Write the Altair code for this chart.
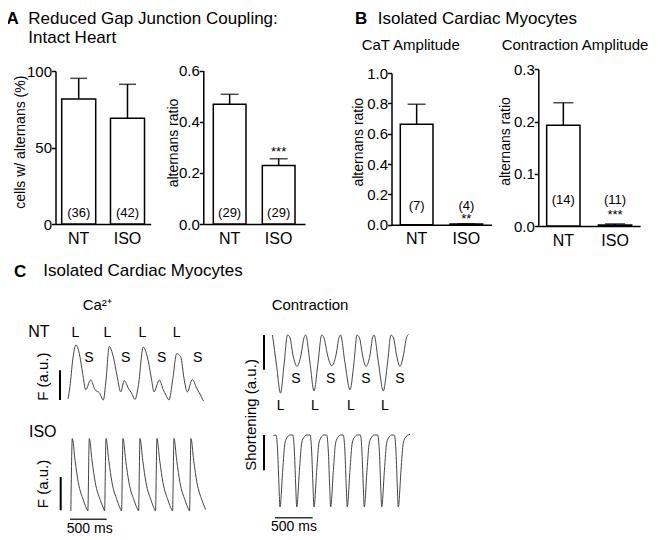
import altair as alt
import pandas as pd

FONT = "Liberation Sans"
PAGE = 8          # page margin; page pixel -> plot pixel
W, H = 644, 531   # whole drawing area

# ---------------- bar data ----------------
groups = ["NT", "ISO"]

a1_mean = [81.7, 69.1]
a1_sem = [13.5, 22.2]
a1_n = ["(36)", "(42)"]
a1_sig = ["", ""]

a2_mean = [0.468, 0.229]
a2_sem = [0.039, 0.026]
a2_n = ["(29)", "(29)"]
a2_sig = ["", "***"]

b1_mean = [0.662, 0.004]
b1_sem = [0.132, 0.002]
b1_n = ["(7)", "(4)"]
b1_sig = ["", "**"]

b2_mean = [0.193, 0.002]
b2_sem = [0.043, 0.002]
b2_n = ["(14)", "(11)"]
b2_sig = ["", "***"]

# ---------------- trace data (time in ms, signal in a.u.) ----------------
ca_nt_t = [0, 27, 64, 109, 154, 200, 241, 309, 368, 429, 481, 518, 562, 617, 671, 718,
           767, 821, 865, 913, 957, 1026, 1080, 1140, 1171, 1244, 1298, 1335, 1376, 1426,
           1481, 1535, 1584, 1625, 1693, 1753, 1798, 1846]
ca_nt_f = [0.02, 0.25, 0.74, 1.02, 0.86, 0.49, 0.19, 0.37, 0.19, 0.13, 0.0, 0.37, 0.99, 0.80,
           0.43, 0.15, 0.36, 0.22, 0.13, 0.01, 0.25, 0.98, 0.80, 0.37, 0.15, 0.37, 0.19, 0.09,
           0.0, 0.37, 0.86, 0.80, 0.37, 0.15, 0.38, 0.22, 0.11, -0.02]

ca_iso_t = [39, 59, 96, 141, 209, 259,
            270, 290, 327, 372, 440, 490,
            498, 518, 555, 600, 668, 718,
            729, 749, 786, 831, 899, 949,
            961, 981, 1018, 1063, 1131, 1181,
            1192, 1212, 1249, 1294, 1362, 1412,
            1424, 1444, 1481, 1526, 1594, 1644,
            1655, 1675, 1712, 1757, 1825, 1875]
ca_iso_f = [0.0, 1.0, 0.70, 0.39, 0.15, 0.02,
            0.0, 1.0, 0.70, 0.39, 0.15, 0.02,
            0.0, 1.0, 0.70, 0.39, 0.15, 0.02,
            0.0, 1.0, 0.70, 0.39, 0.15, 0.02,
            0.0, 1.0, 0.70, 0.39, 0.15, 0.02,
            0.0, 1.0, 0.70, 0.39, 0.15, 0.02,
            0.0, 1.0, 0.70, 0.39, 0.15, 0.02,
            0.0, 1.0, 0.70, 0.39, 0.15, 0.02]

con_nt_t = [7, 60, 113, 159, 206, 239, 278, 332, 385, 424, 447, 504, 557, 610, 659, 690,
            736, 792, 849, 888, 908, 968, 1034, 1087, 1127, 1160, 1200, 1246, 1300, 1333,
            1353, 1412, 1476, 1532, 1578, 1611, 1651, 1697, 1744, 1783, 1810]
con_nt_l = [1.0, 0.47, -0.02, 0.47, 1.0, 0.95, 0.65, 0.45, 0.65, 0.95, 1.0, 0.51, 0.02, 0.51,
            1.0, 0.95, 0.65, 0.46, 0.65, 0.95, 1.0, 0.51, 0.04, 0.51, 1.0, 0.95, 0.65, 0.45,
            0.65, 0.95, 1.0, 0.51, 0.02, 0.51, 1.0, 0.95, 0.65, 0.45, 0.65, 0.95, 1.01]

con_iso_t = [17,
             53, 76, 93, 106, 142, 172, 203, 239,
             275, 298, 315, 328, 364, 394, 425, 461,
             504, 527, 544, 557, 593, 623, 654, 690,
             725, 748, 765, 778, 814, 844, 875, 911,
             945, 968, 985, 998, 1034, 1064, 1095, 1131,
             1171, 1194, 1211, 1224, 1260, 1290, 1321, 1357,
             1402, 1425, 1442, 1455, 1491, 1521, 1552, 1588,
             1622, 1645, 1662, 1675, 1711, 1741, 1772, 1808,
             1830]
con_iso_l = [0.99,
             1.0, 0.75, 0.28, 0.0, 0.51, 0.89, 0.97, 1.0,
             1.0, 0.75, 0.28, 0.0, 0.51, 0.89, 0.97, 1.0,
             1.0, 0.75, 0.28, 0.0, 0.51, 0.89, 0.97, 1.0,
             1.0, 0.75, 0.28, 0.0, 0.51, 0.89, 0.97, 1.0,
             1.0, 0.75, 0.28, 0.0, 0.51, 0.89, 0.97, 1.0,
             1.0, 0.75, 0.28, 0.0, 0.51, 0.89, 0.97, 1.0,
             1.0, 0.75, 0.28, 0.0, 0.51, 0.89, 0.97, 1.0,
             1.0, 0.75, 0.28, 0.0, 0.51, 0.89, 0.97, 1.0,
             1.01]


def p(v):
    return v - PAGE


one = pd.DataFrame({"k": [0]})


def label(text, x, y, size=15, weight="normal", align="left", angle=0, baseline="alphabetic"):
    return alt.Chart(one).mark_text(
        text=text, font=FONT, fontSize=size, fontWeight=weight, align=align,
        baseline=baseline, angle=angle, color="black"
    ).encode(x=alt.value(p(x)), y=alt.value(p(y)))


def bar_panel(mean, sem, ns, sig, ymax, yvals, yfmt, ytitle, x_left, x_right, pin, pout,
              y_zero, y_top, tx, ty, n_base, sig_base, cap):
    df = pd.DataFrame({
        "group": groups,
        "mean": mean,
        "top": [round(m + s, 4) for m, s in zip(mean, sem)],
        "n": ns,
        "sig": sig,
    })
    xscale = alt.Scale(domain=groups, range=[p(x_left), p(x_right)],
                       paddingInner=pin, paddingOuter=pout)
    yscale = alt.Scale(domain=[0, ymax], range=[p(y_zero), p(y_top)], nice=False)
    xaxis = alt.Axis(orient="bottom", offset=p(y_zero) - H, title=None, labelAngle=0,
                     ticks=False, tickSize=0, labelPadding=6, labelFont=FONT, labelFontSize=16,
                     labelColor="black", domainColor="black", domainWidth=1.5, grid=False)
    yaxis = alt.Axis(orient="left", offset=-p(x_left), values=yvals, format=yfmt,
                     title=ytitle, titleX=p(tx) - p(x_left), titleY=p(ty), titleAngle=270,
                     titleAlign="center", titleBaseline="middle", titleFont=FONT,
                     titleFontSize=14, titleFontWeight="normal", titleColor="black",
                     labelFont=FONT, labelFontSize=15, labelColor="black", labelPadding=0,
                     tickSize=4, tickWidth=1.5, tickColor="black", domainColor="black",
                     domainWidth=1.5, grid=False)
    base = alt.Chart(df)
    X = alt.X("group:N", scale=xscale, axis=xaxis)
    bars = base.mark_bar(fill="white", stroke="black", strokeWidth=1.5).encode(
        x=X, y=alt.Y("mean:Q", scale=yscale, axis=yaxis))
    err = base.mark_rule(color="black", strokeWidth=1.5).encode(
        x=X, y=alt.Y("mean:Q", scale=yscale, axis=yaxis), y2=alt.Y2("top:Q"))
    caps = base.mark_tick(color="black", thickness=1.5, size=cap, orient="horizontal").encode(
        x=X, y=alt.Y("top:Q", scale=yscale, axis=yaxis))
    ntext = base.mark_text(font=FONT, fontSize=13, color="black", baseline="alphabetic").encode(
        x=X, y=alt.value(p(n_base)), text="n:N")
    sigtext = base.mark_text(font=FONT, fontSize=13, color="black", baseline="alphabetic").encode(
        x=X, y=alt.value(p(sig_base)), text="sig:N")
    return alt.layer(bars, err, caps, ntext, sigtext)


def trace_panel(t, v, x0, x1, y0, y1, vbar_x, vbar_lo, vbar_hi, hbar=None):
    df = pd.DataFrame({"t": t, "v": v})
    xs = alt.Scale(domain=[0, 2000], range=[p(x0), p(x1)], nice=False, zero=False)
    ys = alt.Scale(domain=[0, 1], range=[p(y0), p(y1)], nice=False, zero=False)
    line = alt.Chart(df).mark_line(color="#444444", strokeWidth=1.0, interpolate="monotone").encode(
        x=alt.X("t:Q", scale=xs, axis=None), y=alt.Y("v:Q", scale=ys, axis=None))
    vbar = alt.Chart(one).mark_rule(color="black", strokeWidth=2).encode(
        x=alt.value(p(vbar_x)),
        y=alt.YDatum(vbar_lo, type="quantitative", scale=ys, axis=None),
        y2=alt.Y2Datum(vbar_hi))
    layers = [line, vbar]
    if hbar is not None:
        t0, t1, ypix = hbar
        layers.append(alt.Chart(one).mark_rule(color="#333333", strokeWidth=1.6).encode(
            x=alt.XDatum(t0, type="quantitative", scale=xs, axis=None),
            x2=alt.X2Datum(t1),
            y=alt.value(p(ypix))))
    return alt.layer(*layers)


# ---------------- panels ----------------
pA1 = bar_panel(a1_mean, a1_sem, a1_n, a1_sig, 100, [0, 50, 100], "d", "cells w/ alternans (%)",
                55.5, 150.7, 0.303, 0.127, 224, 71, 20.3, 141.7, 217, 160, 17)
pA2 = bar_panel(a2_mean, a2_sem, a2_n, a2_sig, 0.6, [0.0, 0.2, 0.4, 0.6], ".1f", "alternans ratio",
                203.3, 305, 0.333, 0.204, 224, 70.5, 173.3, 142.5, 216.7, 155.5, 18)
pB1 = bar_panel(b1_mean, b1_sem, b1_n, b1_sig, 1.0, [0.0, 0.2, 0.4, 0.6, 0.8, 1.0], ".1f",
                "alternans ratio", 391.5, 491.5, 0.342, 0.177, 224.7, 73, 358.3, 141.7,
                209.5, 223.4, 18)
pB2 = bar_panel(b2_mean, b2_sem, b2_n, b2_sig, 0.3, [0.0, 0.1, 0.2, 0.3], ".1f", "alternans ratio",
                538.3, 640.1, 0.356, 0.162, 226, 69.3, 505, 141, 204.3, 218.6, 20)

pC_ca_nt = trace_panel(ca_nt_t, ca_nt_f, 68, 214.8, 400, 346, 60, 0.0, 0.55)
pC_ca_iso = trace_panel(ca_iso_t, ca_iso_f, 68, 214.8, 511, 438.5, 60.7, 0.01, 0.47,
                        hbar=(27, 527, 519.3))
pC_con_nt = trace_panel(con_nt_t, con_nt_l, 272, 422.8, 392, 335, 264, 0.39, 1.0)
pC_con_iso = trace_panel(con_iso_t, con_iso_l, 272, 422.8, 507, 435, 264, 0.51, 1.0,
                         hbar=(40, 540, 517.7))

labels = [
    label("A", 6.5, 24, size=17, weight="bold"),
    label("Reduced Gap Junction Coupling:", 28.3, 24, size=17),
    label("Intact Heart", 28.3, 43, size=17),
    label("B", 355, 24, size=17, weight="bold"),
    label("Isolated Cardiac Myocytes", 377.7, 24, size=17),
    label("CaT Amplitude", 361.7, 49.5, size=15),
    label("Contraction Amplitude", 501.7, 49.5, size=15),
    label("C", 14, 277.3, size=17, weight="bold"),
    label("Isolated Cardiac Myocytes", 43.3, 276, size=17),
    label("Ca²⁺", 82.7, 310, size=15),
    label("Contraction", 271.7, 310, size=15),
    label("NT", 28.3, 337, size=16),
    label("ISO", 29, 436.7, size=16),
    label("F (a.u.)", 43.3, 376.7, size=15, align="center", angle=270, baseline="middle"),
    label("F (a.u.)", 43.3, 484, size=15, align="center", angle=270, baseline="middle"),
    label("Shortening (a.u.)", 250.8, 415, size=15, align="center", angle=270, baseline="middle"),
    label("500 ms", 89.7, 532.5, size=14, align="center"),
    label("500 ms", 294, 531, size=14, align="center"),
]
for xc in [75.3, 107.3, 142.3, 176.7]:
    labels.append(label("L", xc, 336.7, size=14, align="center"))
for xc in [89, 125.7, 161.7, 197.7]:
    labels.append(label("S", xc, 361.7, size=14, align="center"))
for xc in [280.7, 315, 351, 385]:
    labels.append(label("L", xc, 410, size=14, align="center"))
for xc in [296, 330.7, 366, 400]:
    labels.append(label("S", xc, 383.3, size=14, align="center"))

chart = alt.layer(
    pA1, pA2, pB1, pB2, pC_ca_nt, pC_ca_iso, pC_con_nt, pC_con_iso, *labels
).resolve_scale(
    x="independent", y="independent"
).resolve_axis(
    x="independent", y="independent"
).properties(
    width=W, height=H, padding=0,
    autosize=alt.AutoSizeParams(type="none"),
    background="white",
).configure_view(
    strokeWidth=0
).configure_axis(
    grid=False
)

chart.save("out.html", embed_options={"renderer": "svg", "actions": False})
